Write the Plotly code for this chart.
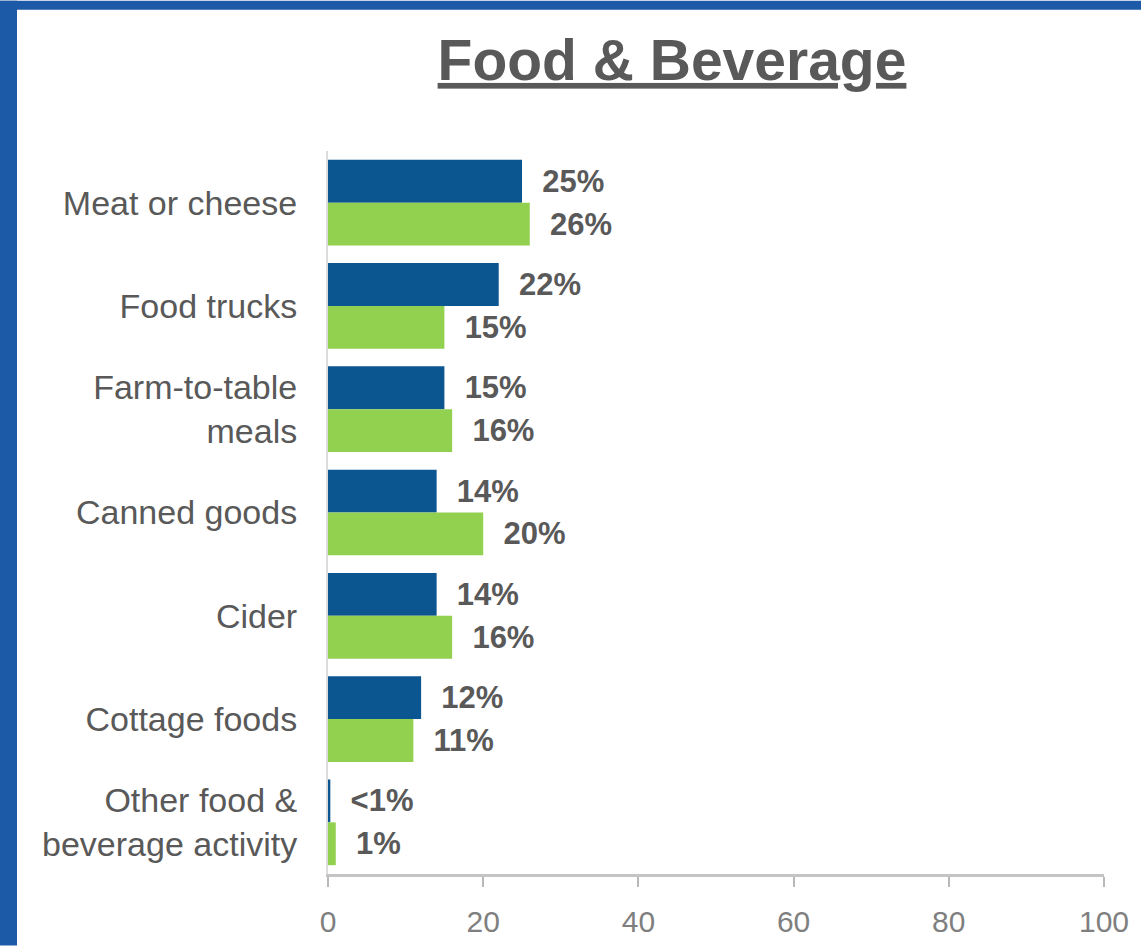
import plotly.graph_objects as go

# Survey results: share of respondents per food & beverage activity
categories = [
    "Meat or cheese",
    "Food trucks",
    "Farm-to-table<br>meals",
    "Canned goods",
    "Cider",
    "Cottage foods",
    "Other food &<br>beverage activity",
]
series_a = [25, 22, 15, 14, 14, 12, 0.3]
series_b = [26, 15, 16, 20, 16, 11, 1]
labels_a = ["25%", "22%", "15%", "14%", "14%", "12%", "<1%"]
labels_b = ["26%", "15%", "16%", "20%", "16%", "11%", "1%"]
x_ticks = [0, 20, 40, 60, 80, 100]

W, H = 1141, 950
ML, MR, MT, MB = 328, 37, 151, 72
PW, PH = W - ML - MR, H - MT - MB

BLUE = "#0b5591"
GREEN = "#92d050"
TEXT = "#595959"
FONT = "Liberation Sans, Arial, sans-serif"

def px_x(p):
    return (p - ML) / PW

def px_y(p):
    return (H - MB - p) / PH

fig = go.Figure()
for vals, labs, col in [(series_a, labels_a, BLUE), (series_b, labels_b, GREEN)]:
    fig.add_trace(go.Bar(
        y=categories,
        x=vals,
        orientation="h",
        marker=dict(color=col, line=dict(width=0)),
        text=["\u00a0\u00a0" + t for t in labs],
        textposition="outside",
        constraintext="none",
        cliponaxis=False,
        textfont=dict(family=FONT, size=31, color=TEXT, weight="bold"),
        hoverinfo="skip",
        showlegend=False,
    ))

fig.update_layout(
    width=W,
    height=H,
    margin=dict(l=ML, r=MR, t=MT, b=MB),
    paper_bgcolor="white",
    plot_bgcolor="white",
    barmode="group",
    bargap=0.17,
    bargroupgap=0,
    font=dict(family=FONT, color=TEXT),
    title=dict(
        text="<b><u>Food & Beverage</u></b>",
        x=672 / W,
        xanchor="center",
        yref="container",
        y=1 - 60 / H,
        yanchor="middle",
        font=dict(size=57, color=TEXT, family=FONT),
    ),
    xaxis=dict(
        range=[0, 100],
        tickvals=x_ticks,
        ticktext=[str(v) for v in x_ticks],
        showgrid=False,
        zeroline=False,
        showline=True,
        linecolor="#c4c4c4",
        linewidth=3,
        ticks="outside",
        ticklen=10,
        tickwidth=2,
        tickcolor="#b8b8b8",
        tickfont=dict(family=FONT, size=30, color="#7f7f7f"),
        ticklabelstandoff=9,
        fixedrange=True,
    ),
    yaxis=dict(
        autorange="reversed",
        showgrid=False,
        zeroline=False,
        showline=True,
        linecolor="#dcdcdc",
        linewidth=2,
        ticks="",
        tickfont=dict(size=34, color=TEXT),
        ticklabelstandoff=22,
        fixedrange=True,
    ),
    shapes=[
        # frame strips along the top and left edges
        dict(type="rect", xref="paper", yref="paper",
             x0=px_x(0), x1=px_x(17), y0=px_y(H), y1=px_y(0),
             fillcolor="#1c5aa8", line=dict(width=0), layer="above"),
        dict(type="rect", xref="paper", yref="paper",
             x0=px_x(0), x1=px_x(W), y0=px_y(9), y1=px_y(0),
             fillcolor="#1c5aa8", line=dict(width=0), layer="above"),
    ],
)

fig.write_html("out.html", config={"displayModeBar": False})
